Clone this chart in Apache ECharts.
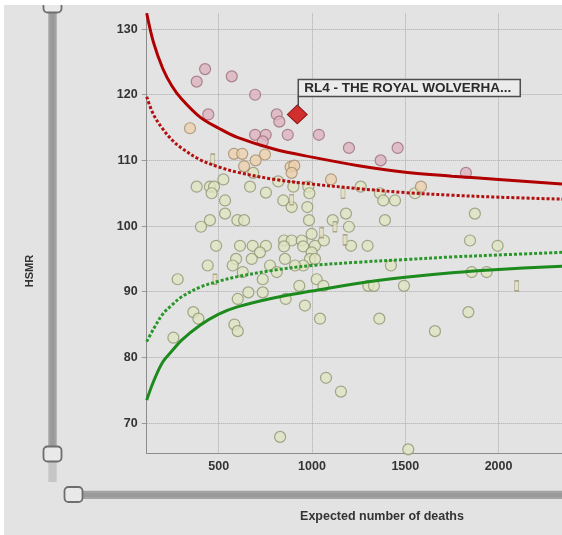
<!DOCTYPE html>
<html>
<head>
<meta charset="utf-8">
<script src="https://cdn.jsdelivr.net/npm/echarts@6/dist/echarts.min.js"></script>
<style>
  html, body { margin: 0; padding: 0; background: #ffffff; }
  #chart { width: 562px; height: 535px; }
</style>
</head>
<body>
<div id="chart"></div>
<script>
// Axis ticks
const xTicks = [500, 1000, 1500, 2000];
const yTicks = [70, 80, 90, 100, 110, 120, 130];

// Control limits (funnel) sampled along expected deaths
const limitExpected = [114, 150, 200, 250, 300, 400, 500, 600, 800, 1000, 1250, 1500, 1750, 2000, 2340];
const upper998 = [132.4, 128.0, 124.0, 121.3, 119.4, 116.6, 114.9, 113.5, 111.7, 110.5, 109.2, 108.2, 107.6, 107.1, 106.4];
const upper95  = [119.7, 117.0, 114.8, 113.1, 111.9, 110.1, 109.0, 108.2, 107.1, 106.4, 105.7, 105.1, 104.7, 104.4, 104.1];
const lower95  = [82.4, 84.3, 86.6, 88.0, 89.2, 90.7, 91.6, 92.3, 93.3, 94.0, 94.5, 94.9, 95.3, 95.6, 96.0];
const lower998 = [73.5, 76.3, 79.3, 81.0, 82.6, 84.9, 86.6, 87.7, 89.1, 90.1, 91.3, 92.2, 92.9, 93.4, 93.9];

// Trusts: [expected deaths, HSMR]
const aboveOuter = [
  [427, 123.9], [382, 122.0], [570, 122.8], [695, 120.0], [444, 117.0], [811, 117.0],
  [825, 115.9], [695, 113.9], [752, 113.9], [736, 112.9], [870, 113.9], [1037, 113.9],
  [1198, 111.9], [1459, 111.9], [1368, 110.0], [1825, 108.1]
];
const aboveInner = [
  [346, 114.9], [582, 111.0], [626, 111.0], [748, 110.9], [698, 110.0], [636, 109.1],
  [885, 109.0], [905, 109.2], [891, 108.1], [1102, 107.1], [1584, 106.0]
];
const withinLimits = [
  [685, 108.1], [525, 107.1], [819, 106.8], [382, 106.0], [453, 106.0], [475, 106.0],
  [462, 105.0], [668, 106.0], [753, 105.1], [900, 106.0], [980, 106.0], [986, 105.0],
  [1261, 106.0], [1364, 105.0], [1552, 105.0], [1382, 103.9], [1445, 103.9], [534, 103.9],
  [846, 103.9], [891, 102.9], [975, 102.9], [534, 101.9], [1182, 101.9], [1873, 101.9],
  [453, 100.9], [600, 100.9], [636, 100.9], [984, 100.9], [1111, 100.9], [1391, 100.9],
  [405, 99.9], [1198, 99.9], [998, 98.8], [486, 97.0], [614, 97.0], [682, 97.0],
  [753, 97.0], [850, 97.8], [891, 97.8], [945, 97.8], [850, 96.9], [953, 96.9],
  [1016, 97.0], [1064, 97.8], [1209, 97.0], [1298, 97.0], [1847, 97.8], [1995, 97.0],
  [721, 96.0], [998, 96.0], [593, 95.0], [677, 95.0], [855, 95.0], [989, 95.0],
  [1016, 95.0], [953, 94.0], [909, 94.0], [775, 94.0], [575, 94.0], [441, 94.0],
  [1423, 94.0], [811, 93.0], [629, 93.0], [1856, 93.0], [1936, 93.0], [280, 91.9],
  [736, 91.9], [1025, 91.9], [1061, 90.9], [932, 90.9], [1302, 90.9], [1332, 90.9],
  [1493, 90.9], [659, 89.9], [736, 89.9], [602, 88.9], [859, 88.9], [962, 87.9],
  [364, 86.9], [391, 85.9], [1043, 85.9], [1361, 85.9], [1838, 86.9], [584, 85.0],
  [602, 84.0], [1659, 84.0], [257, 83.0], [1075, 76.9], [1155, 74.8], [829, 67.9],
  [1516, 66.0]
];
const otherSites = [
  [468, 110.2], [1166, 105.0], [891, 104.0], [1123, 99.9], [1052, 99.0], [1177, 97.9],
  [480, 91.9], [2097, 90.9]
];
const selectedTrust = [921, 117.0];
const selectedName = 'RL4 - THE ROYAL WOLVERHA...';

const zip = (xs, ys) => xs.map((x, i) => [x, ys[i]]);

const chart = echarts.init(document.getElementById('chart'), null, { renderer: 'canvas' });

const limitLine = (name, values, color, dashed) => ({
  name: name,
  type: 'line',
  data: zip(limitExpected, values),
  smooth: 0.35,
  showSymbol: false,
  silent: true,
  z: 5,
  lineStyle: { color: color, width: 3, type: dashed ? [3, 2] : 'solid', cap: 'butt' }
});

const dots = (name, data, fill, border) => ({
  name: name,
  type: 'scatter',
  data: data,
  symbol: 'circle',
  symbolSize: 11,
  z: 3,
  itemStyle: { color: fill, borderColor: border, borderWidth: 1.2 }
});

const FONT = '"Liberation Sans", Arial, sans-serif';
const plain = v => String(v);

chart.setOption({
  backgroundColor: '#e3e3e3',
  animation: false,
  grid: { left: 146.7, top: 13.3, right: 0, bottom: 81.7, containLabel: false },
  xAxis: {
    type: 'value',
    min: 114,
    max: 2340,
    axisLine: { show: true, onZero: false, lineStyle: { color: '#8c8c8c', width: 1 } },
    axisTick: { show: false, customValues: xTicks },
    axisLabel: {
      customValues: xTicks, formatter: plain, margin: 7, color: '#333333',
      fontFamily: FONT, fontSize: 12.5, fontWeight: 'bold'
    },
    splitLine: { show: true, lineStyle: { color: '#a9a9a9', width: 1, type: 'dotted' } }
  },
  yAxis: {
    type: 'value',
    min: 65.4,
    max: 132.4,
    axisLine: { show: true, onZero: false, lineStyle: { color: '#8c8c8c', width: 1 } },
    axisTick: { show: true, length: 5, customValues: yTicks, lineStyle: { color: '#9a9a9a' } },
    axisLabel: {
      customValues: yTicks, formatter: plain, margin: 9, color: '#333333',
      fontFamily: FONT, fontSize: 12.5, fontWeight: 'bold'
    },
    splitLine: { show: true, lineStyle: { color: '#a9a9a9', width: 1, type: 'dotted' } }
  },
  series: [
    dots('Within limits', withinLimits, '#dfe4c2', '#8f9572'),
    dots('Above 95% limit', aboveInner, '#ecd1ad', '#a58c6d'),
    dots('Above 99.8% limit', aboveOuter, '#ddb3bf', '#9b6f7d'),
    {
      name: 'Other sites',
      type: 'scatter',
      data: otherSites,
      symbol: 'rect',
      symbolSize: [4, 10],
      z: 3,
      itemStyle: { color: '#e2dfbf', borderColor: '#9c9a7a', borderWidth: 1 }
    },
    limitLine('Upper 95%', upper95, '#b30f0f', true),
    limitLine('Lower 95%', lower95, '#2a962a', true),
    limitLine('Upper 99.8%', upper998, '#b00000', false),
    limitLine('Lower 99.8%', lower998, '#1c8a1c', false),
    {
      name: 'Selected trust',
      type: 'scatter',
      data: [selectedTrust],
      symbol: 'diamond',
      symbolSize: [20, 19],
      z: 8,
      itemStyle: { color: '#cc0000', borderColor: '#7a0000', borderWidth: 1 }
    }
  ]
});

// Callout box for the selected trust, anchored on its plotted position
const anchor = chart.convertToPixel({ xAxisIndex: 0, yAxisIndex: 0 }, selectedTrust);
const boxLeft = anchor[0] + 1;
const boxBottom = anchor[1] - 18;
const boxTop = anchor[1] - 35;

chart.setOption({
  graphic: [
    // frame edges
    { type: 'rect', silent: true, z: 100, shape: { x: 0, y: 0, width: 562, height: 5 }, style: { fill: '#ffffff' } },
    { type: 'rect', silent: true, z: 100, shape: { x: 0, y: 0, width: 4, height: 535 }, style: { fill: '#ffffff' } },
    // vertical range slider
    { type: 'rect', silent: true, z: -1, shape: { x: 48.3, y: 0, width: 8.4, height: 461 }, style: { fill: '#a3a3a3' } },
    { type: 'rect', silent: true, z: -1, shape: { x: 50.5, y: 0, width: 4, height: 461 }, style: { fill: '#9a9a9a' } },
    { type: 'rect', silent: true, z: -1, shape: { x: 48.3, y: 461, width: 8.4, height: 21 }, style: { fill: '#c6c6c6' } },
    { type: 'rect', silent: true, z: 2, shape: { x: 43.5, y: -3, width: 18, height: 15.5, r: 4 }, style: { fill: '#e9e9e9', stroke: '#6e6e6e', lineWidth: 1.8 } },
    { type: 'rect', silent: true, z: 2, shape: { x: 43.5, y: 446.5, width: 18, height: 15, r: 4 }, style: { fill: '#e9e9e9', stroke: '#6e6e6e', lineWidth: 1.8 } },
    // horizontal range slider
    { type: 'rect', silent: true, z: -1, shape: { x: 80, y: 490.7, width: 482, height: 8.4 }, style: { fill: '#a3a3a3' } },
    { type: 'rect', silent: true, z: -1, shape: { x: 80, y: 492.9, width: 482, height: 4 }, style: { fill: '#9a9a9a' } },
    { type: 'rect', silent: true, z: 2, shape: { x: 64.5, y: 487, width: 18, height: 15, r: 4 }, style: { fill: '#e9e9e9', stroke: '#6e6e6e', lineWidth: 1.8 } },
    // axis titles
    {
      type: 'text', silent: true, z: 10, x: 30, y: 271, rotation: Math.PI / 2,
      style: { text: 'HSMR', fill: '#333333', font: 'bold 11px ' + FONT, align: 'center', verticalAlign: 'middle' }
    },
    {
      type: 'text', silent: true, z: 10, x: 382, y: 517,
      style: { text: 'Expected number of deaths', fill: '#333333', font: 'bold 12.5px ' + FONT, align: 'center', verticalAlign: 'middle' }
    },
    // callout for the selected trust
    {
      type: 'line', silent: true, z: 20,
      shape: { x1: boxLeft, y1: boxBottom, x2: boxLeft, y2: anchor[1] - 8 },
      style: { stroke: '#4d4d4d', lineWidth: 1.5 }
    },
    {
      type: 'rect', silent: true, z: 20,
      shape: { x: boxLeft, y: boxTop, width: 222, height: boxBottom - boxTop },
      style: { fill: '#ebebeb', stroke: '#4d4d4d', lineWidth: 1.5 }
    },
    {
      type: 'text', silent: true, z: 21, x: boxLeft + 6, y: (boxTop + boxBottom) / 2 + 0.5,
      style: { text: selectedName, fill: '#2a2a2a', font: 'bold 13.5px ' + FONT, align: 'left', verticalAlign: 'middle' }
    }
  ]
});
</script>
</body>
</html>
